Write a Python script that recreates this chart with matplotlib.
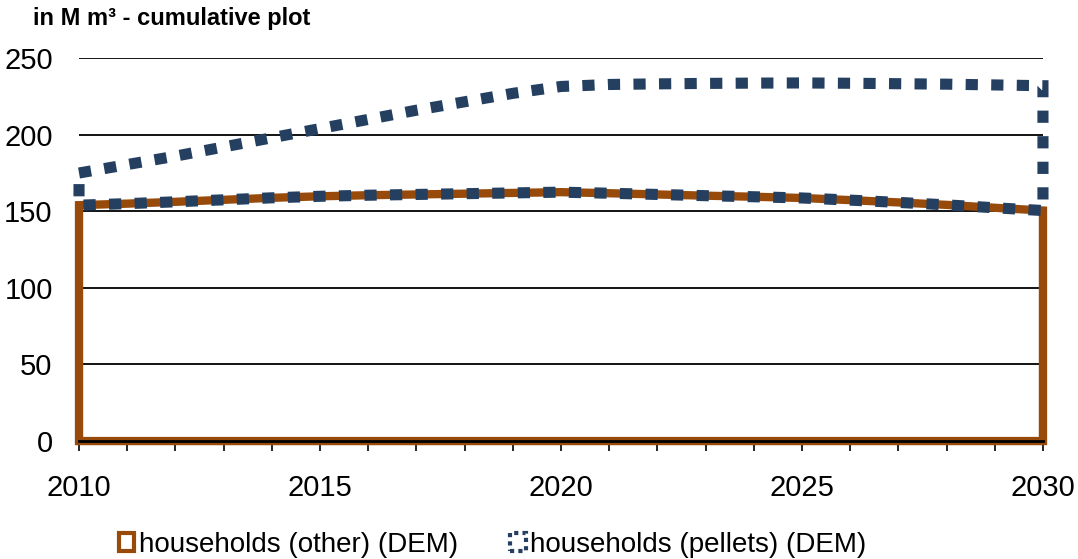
import matplotlib
matplotlib.use("Agg")
import matplotlib.pyplot as plt
from matplotlib.patches import Polygon, Patch

plt.rcParams['font.family'] = ['Liberation Sans', 'DejaVu Sans']

years = list(range(2010, 2031))
other = [154, 155, 156.2, 157.5, 158.8, 159.8, 160.5, 161, 161.5, 162, 162.5,
         161.8, 161, 160.2, 159.5, 158.7, 157.3, 155.8, 154.2, 152.3, 150.5]
pellets = [21, 25.5, 29.8, 34.5, 39.2, 44.2, 49.5, 55, 60, 65, 69,
           71, 72.2, 73.3, 74.2, 75.1, 76.3, 77.5, 78.8, 80.2, 81.5]
yticks = [0, 50, 100, 150, 200, 250]
xlabels = [2010, 2015, 2020, 2025, 2030]

brown = '#974a0a'
blue = '#243f60'

fig = plt.figure(figsize=(10.78, 5.59), dpi=100)
ax = fig.add_axes([0.0733, 0.211, 0.8942, 0.685])

cum = [o + p for o, p in zip(other, pellets)]

# grid lines
for v in yticks[1:]:
    ax.axhline(v, color='black', lw=1.3, zorder=1)

# other area outline
pts = [(years[0], 0)] + list(zip(years, other)) + [(years[-1], 0)]
ax.add_patch(Polygon(pts, closed=True, fill=False, edgecolor=brown, lw=6,
                     joinstyle='miter', clip_on=False, zorder=2))

# pellets area outline (stacked on top of other)
pts2 = list(zip(years, cum)) + list(zip(years[::-1], other[::-1]))
ax.add_patch(Polygon(pts2, closed=True, fill=False, edgecolor=blue, lw=8,
                     linestyle=(0, (1.1, 1.2)), capstyle='butt',
                     clip_on=False, zorder=3))

ax.set_xlim(2010, 2030)
ax.set_ylim(0, 250)
ax.set_yticks(yticks)
ax.set_xticks(years)
ax.set_xticklabels([str(y) if y in xlabels else '' for y in years])
ax.tick_params(axis='y', length=0, pad=19, labelsize=21)
ax.tick_params(axis='x', length=7, width=1.2, direction='out', pad=17, labelsize=21)

for s in ['top', 'right', 'left']:
    ax.spines[s].set_visible(False)
ax.spines['bottom'].set_linewidth(2)
ax.spines['bottom'].set_zorder(4)

fig.text(0.031, 0.967, 'in M m³ - cumulative plot', fontsize=17, weight='bold',
         va='center', ha='left')

handles = [Patch(facecolor='none', edgecolor=brown, lw=3),
           Patch(facecolor='none', edgecolor=blue, lw=3, linestyle=(0, (1, 1)))]
fig.legend(handles, ['households (other) (DEM)', 'households (pellets) (DEM)'],
           loc='center', bbox_to_anchor=(0.457, 0.025), ncol=2, frameon=False,
           fontsize=20, handlelength=0.55, handleheight=0.6, handletextpad=0.15,
           columnspacing=1.9)

fig.savefig('out.png', dpi=100)
